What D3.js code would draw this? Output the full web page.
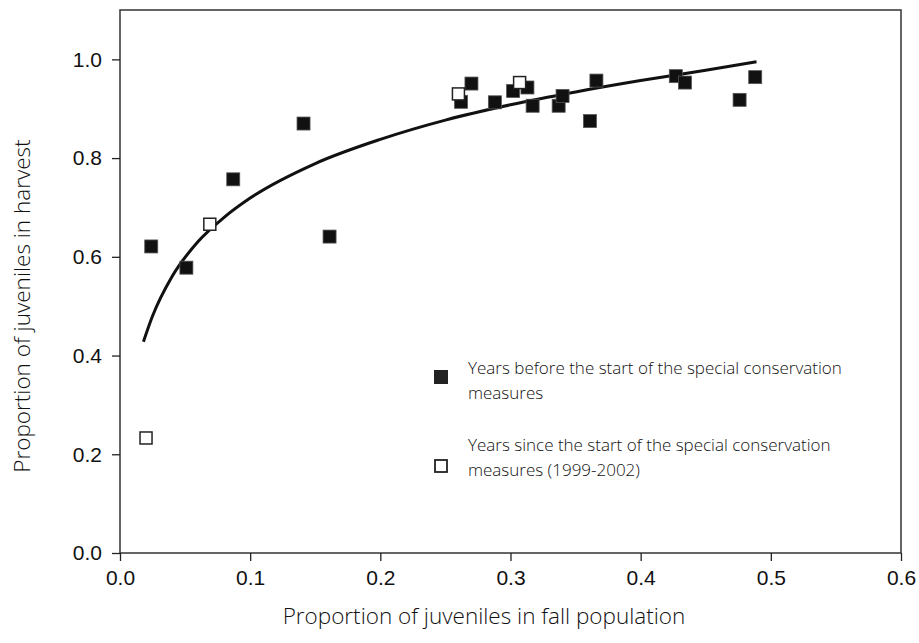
<!DOCTYPE html>
<html>
<head>
<meta charset="utf-8">
<script src="https://cdn.jsdelivr.net/npm/d3@7"></script>
<style>
  body { margin: 0; background: #fff; }
  .axis text { font-family: "Liberation Sans", Arial, sans-serif; font-size: 21px; fill: #111; }
  .axis line { stroke: #222; stroke-width: 1.3; }
  .axis path { display: none; }
  .title { font-family: "Open Sans", sans-serif; font-weight: 300; font-size: 22.5px; fill: #111; }
  .legend text { font-family: "Open Sans", sans-serif; font-weight: 300; font-size: 17px; fill: #111; }
</style>
</head>
<body>
<div class="chart"></div>
<script>
    // years before the conservation measures (filled squares)
    const beforeX = [0.024, 0.051, 0.087, 0.141, 0.161, 0.262, 0.270, 0.288, 0.302, 0.313, 0.317, 0.337, 0.340, 0.361, 0.366, 0.427, 0.434, 0.476, 0.488];
    const beforeY = [0.621, 0.578, 0.757, 0.870, 0.641, 0.914, 0.951, 0.913, 0.936, 0.943, 0.906, 0.906, 0.926, 0.875, 0.957, 0.966, 0.953, 0.918, 0.964];

    // years since the start of the measures, 1999-2002 (open squares)
    const sinceX = [0.020, 0.069, 0.260, 0.307];
    const sinceY = [0.233, 0.666, 0.930, 0.953];

    // fitted curve
    const fitX = [0.018, 0.025, 0.04, 0.06, 0.08, 0.1, 0.15, 0.2, 0.25, 0.3, 0.35, 0.4, 0.45, 0.489];
    const fitY = [0.428, 0.480, 0.560, 0.631, 0.680, 0.719, 0.789, 0.838, 0.877, 0.908, 0.934, 0.957, 0.978, 0.995];

    const xTicks = [0, 0.1, 0.2, 0.3, 0.4, 0.5, 0.6];
    const yTicks = [0, 0.2, 0.4, 0.6, 0.8, 1.0];

    const legendLabels = [
        ["Years before the start of the special conservation", "measures"],
        ["Years since the start of the special conservation", "measures (1999-2002)"]
    ];

    const margin = {top: 10, left: 120, right: 18, bottom: 90};
    const width = 919 - margin.left - margin.right;
    const height = 643 - margin.top - margin.bottom;

    const svg = d3.select(".chart").append("svg")
        .attr("width", width + margin.left + margin.right)
        .attr("height", height + margin.top + margin.bottom)
        .append("g")
        .attr("transform", "translate(" + margin.left + "," + margin.top + ")");

    const xScale = d3.scaleLinear().domain([0, 0.6]).range([0, width]);
    const yScale = d3.scaleLinear().domain([0, 1.1]).range([height, 0]);

    // frame
    svg.append("rect")
        .attr("width", width)
        .attr("height", height)
        .attr("fill", "none")
        .attr("stroke", "#333")
        .attr("stroke-width", 1.5);

    const xAxis = d3.axisBottom(xScale)
        .tickValues(xTicks)
        .tickFormat(d3.format(".1f"))
        .tickSize(8)
        .tickPadding(9);

    svg.append("g")
        .attr("class", "axis x-axis")
        .attr("transform", `translate(0, ${height})`)
        .call(xAxis);

    const yAxis = d3.axisLeft(yScale)
        .tickValues(yTicks)
        .tickFormat(d3.format(".1f"))
        .tickSize(8)
        .tickPadding(10);

    svg.append("g")
        .attr("class", "axis y-axis")
        .call(yAxis);

    // fitted curve
    const fit = fitX.map((x, i) => ({x: x, y: fitY[i]}));
    const line = d3.line()
        .x(d => xScale(d.x))
        .y(d => yScale(d.y))
        .curve(d3.curveMonotoneX);

    svg.append("path")
        .datum(fit)
        .attr("fill", "none")
        .attr("stroke", "#111")
        .attr("stroke-width", 3)
        .attr("d", line);

    const size = 13;

    const before = beforeX.map((x, i) => ({x: x, y: beforeY[i]}));
    svg.selectAll(".before")
        .data(before)
        .enter()
        .append("rect")
        .attr("class", "before")
        .attr("x", d => xScale(d.x) - size / 2)
        .attr("y", d => yScale(d.y) - size / 2)
        .attr("width", size)
        .attr("height", size)
        .attr("fill", "#111")
        .attr("stroke", "#555")
        .attr("stroke-width", 0.8);

    const since = sinceX.map((x, i) => ({x: x, y: sinceY[i]}));
    svg.selectAll(".since")
        .data(since)
        .enter()
        .append("rect")
        .attr("class", "since")
        .attr("x", d => xScale(d.x) - (size - 1) / 2)
        .attr("y", d => yScale(d.y) - (size - 1) / 2)
        .attr("width", size - 1)
        .attr("height", size - 1)
        .attr("fill", "#fff")
        .attr("stroke", "#222")
        .attr("stroke-width", 1.5);

    // legend
    const legend = svg.append("g").attr("class", "legend");

    legend.append("rect")
        .attr("x", 434 - margin.left)
        .attr("y", 370 - margin.top)
        .attr("width", 14)
        .attr("height", 14)
        .attr("fill", "#222");

    legend.append("rect")
        .attr("x", 435 - margin.left)
        .attr("y", 460 - margin.top)
        .attr("width", 12)
        .attr("height", 12)
        .attr("fill", "#fff")
        .attr("stroke", "#222")
        .attr("stroke-width", 1.8);

    const legendTop = [374, 451];
    legendLabels.forEach((lines, i) => {
        lines.forEach((t, j) => {
            legend.append("text")
                .attr("x", 468 - margin.left)
                .attr("y", legendTop[i] + j * 25 - margin.top)
                .text(t);
        });
    });

    // axis titles
    svg.append("text")
        .attr("class", "title")
        .attr("text-anchor", "middle")
        .attr("x", 484 - margin.left)
        .attr("y", 624 - margin.top)
        .text("Proportion of juveniles in fall population");

    svg.append("text")
        .attr("class", "title")
        .attr("text-anchor", "middle")
        .attr("transform", `translate(${30 - margin.left}, ${306 - margin.top}) rotate(-90)`)
        .text("Proportion of juveniles in harvest");
</script>
</body>
</html>
